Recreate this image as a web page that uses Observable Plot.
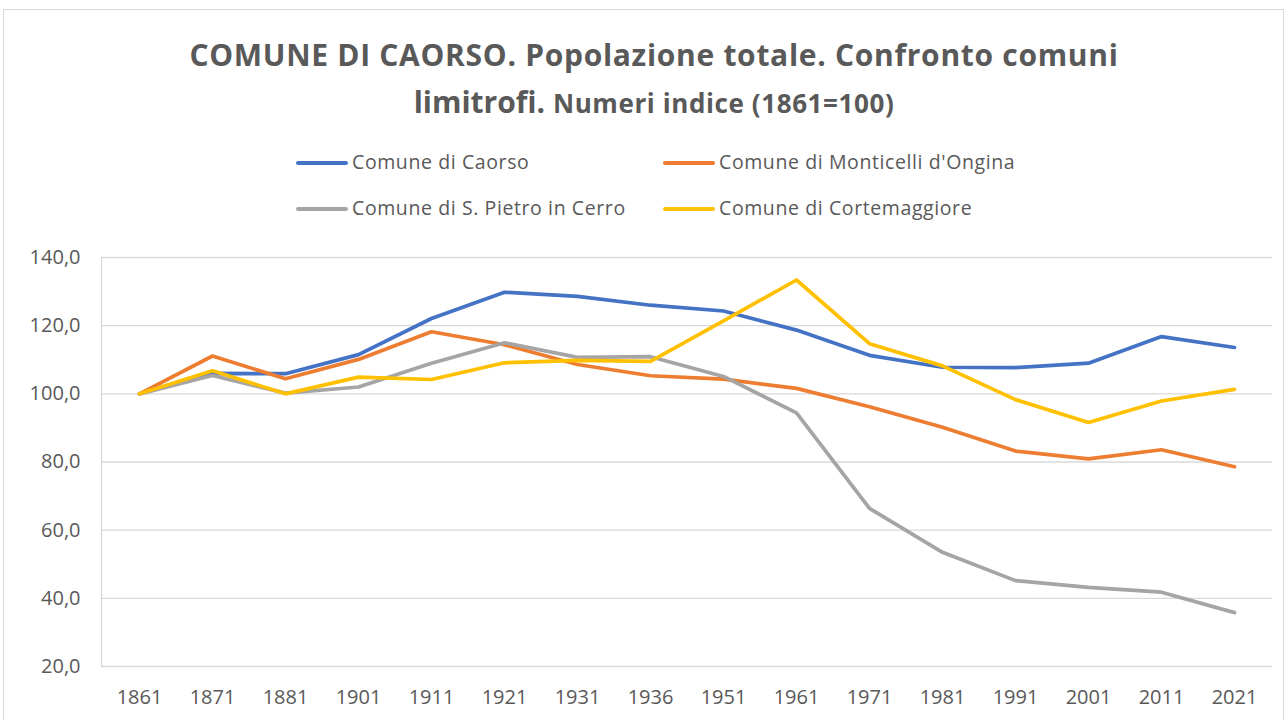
<!DOCTYPE html>
<html>
<head>
<meta charset="utf-8">
<script src="https://cdn.jsdelivr.net/npm/d3@7"></script>
<script src="https://cdn.jsdelivr.net/npm/@observablehq/plot@0.6"></script>
<style>
  body { margin: 0; background: #fff; font-family: "Open Sans", sans-serif; color: #595959; }
  #wrap { position: relative; width: 1288px; height: 720px; overflow: hidden; }
  #frame { position: absolute; left: 3px; top: 9px; width: 1281px; height: 720px; border: 1px solid #d9d9d9; box-sizing: border-box; }
  .t { position: absolute; left: 10px; width: 1288px; text-align: center; font-weight: 700; white-space: nowrap; }
  .lg { position: absolute; font-size: 19.5px; letter-spacing: 0.6px; white-space: nowrap; line-height: 24px; }
  .sw { position: absolute; height: 3.6px; width: 52px; border-radius: 2px; }
  #chart { position: absolute; left: 0; top: 240px; }
</style>
</head>
<body>
<div id="wrap">
  <div id="frame"></div>
  <div class="t" id="t1" style="top:35px; font-size:30px; letter-spacing:0.7px; line-height:40px;">COMUNE DI CAORSO. Popolazione totale. Confronto comuni</div>
  <div class="t" id="t2" style="top:82px; font-size:30px; line-height:40px;">limitrofi. <span style="font-size:26px; letter-spacing:0.6px;">Numeri indice (1861=100)</span></div>
  <div id="legend"></div>
  <div id="chart"></div>
</div>
<script>
const years = ["1861","1871","1881","1901","1911","1921","1931","1936","1951","1961","1971","1981","1991","2001","2011","2021"];
const caorso = [100,106.0,105.9,111.5,122.1,129.8,128.6,126.0,124.3,118.7,111.3,107.8,107.7,109.0,116.8,113.6];
const monticelli = [100,111.1,104.4,110.1,118.2,114.4,108.6,105.3,104.3,101.6,96.2,90.2,83.2,80.9,83.6,78.6];
const sPietro = [100,105.4,100.2,102.0,109.0,115.0,110.7,110.9,105.1,94.4,66.4,53.5,45.2,43.2,41.8,35.8];
const cortemaggiore = [100,106.8,100.0,104.9,104.2,109.1,109.8,109.5,121.4,133.4,114.7,108.2,98.3,91.6,97.9,101.3];
const seriesNames = ["Comune di Caorso","Comune di Monticelli d'Ongina","Comune di S. Pietro in Cerro","Comune di Cortemaggiore"];
const seriesColors = ["#4472C4","#ED7D31","#A5A5A5","#FFC000"];
const yTicks = [20,40,60,80,100,120,140];

const allSeries = [caorso, monticelli, sPietro, cortemaggiore];
const rows = [];
allSeries.forEach((vals, i) => vals.forEach((v, j) => rows.push({year: years[j], value: v, series: seriesNames[i]})));

const fmt = d => d.toFixed(1).replace(".", ",");

const chart = Plot.plot({
  width: 1288,
  height: 480,
  marginLeft: 101,
  marginRight: 16,
  marginTop: 17,
  marginBottom: 54,
  style: {fontFamily: "Open Sans, sans-serif", color: "#595959", background: "transparent"},
  x: {type: "point", domain: years, padding: 0.5, label: null},
  y: {domain: [20, 140], label: null},
  color: {domain: seriesNames, range: seriesColors},
  marks: [
    Plot.ruleY(yTicks, {stroke: "#d9d9d9", strokeWidth: 1.3}),
    Plot.frame({anchor: "left", stroke: "#d9d9d9", strokeWidth: 1.3}),
    Plot.axisY(yTicks, {tickSize: 0, tickPadding: 21, tickFormat: fmt, fontSize: 20, fill: "#595959", label: null}),
    Plot.axisX(years, {tickSize: 0, tickPadding: 23, fontSize: 20, fill: "#595959", label: null}),
    Plot.line(rows, {x: "year", y: "value", z: "series", stroke: "series", strokeWidth: 3.7, strokeLinejoin: "round", strokeLinecap: "round"})
  ]
});
document.getElementById("chart").appendChild(chart);

const legend = document.getElementById("legend");
const pos = [[296,163],[663,163],[296,209],[663,209]];
seriesNames.forEach((name, i) => {
  const [x, y] = pos[i];
  const sw = document.createElement("div");
  sw.className = "sw";
  sw.style.left = x + "px";
  sw.style.top = (y - 1.8) + "px";
  sw.style.background = seriesColors[i];
  legend.appendChild(sw);
  const tx = document.createElement("div");
  tx.className = "lg";
  tx.style.left = (x + 56) + "px";
  tx.style.top = (y - 13) + "px";
  tx.textContent = name;
  legend.appendChild(tx);
});
</script>
</body>
</html>
